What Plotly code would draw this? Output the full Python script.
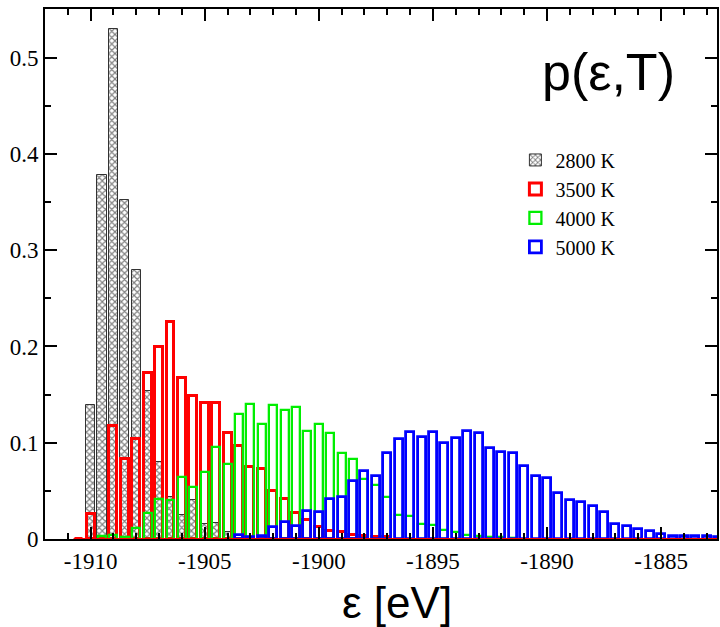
import numpy as np
import plotly.graph_objects as go

# Energy bins (eV), bin width 0.5 eV
bins = np.round(np.arange(-1910.5, -1882.49, 0.5), 2)

# Normalised energy distributions p(eps, T) per temperature, keyed by bin centre
p_2800 = {
    -1910.0: 0.139, -1909.5: 0.378, -1909.0: 0.530, -1908.5: 0.352,
    -1908.0: 0.279, -1907.5: 0.154, -1907.0: 0.080, -1906.5: 0.044,
    -1906.0: 0.025, -1905.5: 0.040, -1905.0: 0.016, -1904.5: 0.017,
    -1904.0: 0.007,
}
p_3500 = {
    -1910.5: 0.0, -1910.0: 0.026, -1909.5: 0.0, -1909.0: 0.117,
    -1908.5: 0.083, -1908.0: 0.104, -1907.5: 0.172, -1907.0: 0.199,
    -1906.5: 0.225, -1906.0: 0.167, -1905.5: 0.149, -1905.0: 0.141,
    -1904.5: 0.141, -1904.0: 0.110, -1903.5: 0.097, -1903.0: 0.075,
    -1902.5: 0.073, -1902.0: 0.050, -1901.5: 0.042, -1901.0: 0.027,
    -1900.5: 0.020, -1900.0: 0.012, -1899.5: 0.008, -1899.0: 0.007,
    -1898.5: 0.004, -1898.0: 0.003, -1897.5: 0.002, -1897.0: 0.002,
}
p_4000 = {
    -1909.5: 0.003, -1909.0: 0.004, -1908.5: 0.002, -1908.0: 0.011,
    -1907.5: 0.027, -1907.0: 0.042, -1906.5: 0.041, -1906.0: 0.064,
    -1905.5: 0.054, -1905.0: 0.070, -1904.5: 0.096, -1904.0: 0.078,
    -1903.5: 0.130, -1903.0: 0.140, -1902.5: 0.119, -1902.0: 0.139,
    -1901.5: 0.134, -1901.0: 0.137, -1900.5: 0.112, -1900.0: 0.119,
    -1899.5: 0.110, -1899.0: 0.089, -1898.5: 0.083, -1898.0: 0.062,
    -1897.5: 0.056, -1897.0: 0.044, -1896.5: 0.025, -1896.0: 0.024,
    -1895.5: 0.016, -1895.0: 0.015, -1894.5: 0.009, -1894.0: 0.007,
    -1893.5: 0.004, -1893.0: 0.003, -1892.5: 0.002, -1892.0: 0.002,
    -1891.5: 0.001,
}
p_5000 = {
    -1903.5: 0.004, -1903.0: 0.002, -1902.5: 0.003, -1902.0: 0.012,
    -1901.5: 0.018, -1901.0: 0.013, -1900.5: 0.029, -1900.0: 0.028,
    -1899.5: 0.042, -1899.0: 0.044, -1898.5: 0.060, -1898.0: 0.071,
    -1897.5: 0.065, -1897.0: 0.089, -1896.5: 0.104, -1896.0: 0.111,
    -1895.5: 0.106, -1895.0: 0.111, -1894.5: 0.100, -1894.0: 0.105,
    -1893.5: 0.112, -1893.0: 0.110, -1892.5: 0.095, -1892.0: 0.090,
    -1891.5: 0.089, -1891.0: 0.076, -1890.5: 0.065, -1890.0: 0.063,
    -1889.5: 0.048, -1889.0: 0.040, -1888.5: 0.038, -1888.0: 0.034,
    -1887.5: 0.028, -1887.0: 0.016, -1886.5: 0.013, -1886.0: 0.010,
    -1885.5: 0.008, -1885.0: 0.005, -1884.5: 0.003, -1884.0: 0.003,
    -1883.5: 0.003, -1883.0: 0.003, -1882.5: 0.002,
}

labels = ["2800 K", "3500 K", "4000 K", "5000 K"]
x_ticks = [-1910, -1905, -1900, -1895, -1890, -1885]
y_ticks = [0, 0.1, 0.2, 0.3, 0.4, 0.5]

BIN = 0.5


def series(d):
    xs = [b for b in bins if b in d]
    return xs, [d[b] for b in xs]


fig = go.Figure()

# 2800 K: cross-hatched bars
x0, y0 = series(p_2800)
fig.add_trace(go.Bar(
    x=x0, y=y0, name=labels[0], width=0.4,
    marker=dict(color="white", line=dict(color="#333333", width=1),
                pattern=dict(shape="x", fgcolor="black", bgcolor="white",
                             size=4.5, solidity=0.45)),
))

# 3500 K: red outlined bars with red zero baseline across the full bin range
red_x = list(bins)
fig.add_trace(go.Scatter(
    x=[red_x[0] - BIN / 2, red_x[-1] + BIN / 2], y=[0, 0], mode="lines",
    line=dict(color="#ff0000", width=2), showlegend=False, hoverinfo="skip",
))
x1, y1 = series(p_3500)
fig.add_trace(go.Bar(
    x=x1, y=y1, name=labels[1], width=0.35,
    marker=dict(color="rgba(0,0,0,0)", line=dict(color="#ff0000", width=3)),
))

x2, y2 = series(p_4000)
fig.add_trace(go.Bar(
    x=x2, y=y2, name=labels[2], width=0.35,
    marker=dict(color="rgba(0,0,0,0)", line=dict(color="#00ee00", width=2.3)),
))

x3, y3 = series(p_5000)
fig.add_trace(go.Bar(
    x=x3, y=y3, name=labels[3], width=0.35,
    marker=dict(color="rgba(0,0,0,0)", line=dict(color="#0000ff", width=2.8)),
))

axis_common = dict(
    showline=True, linecolor="black", linewidth=2, mirror="allticks",
    ticks="inside", ticklen=12, tickwidth=1.5, tickcolor="black",
    showgrid=False, zeroline=False,
    tickfont=dict(family="Liberation Serif", size=23, color="black"),
)

fig.update_layout(
    width=720, height=627,
    margin=dict(l=45, r=1, t=9, b=88),
    paper_bgcolor="white", plot_bgcolor="white",
    barmode="overlay", bargap=0,
    showlegend=True,
    legend=dict(
        x=0.70, y=0.752, xanchor="left", yanchor="top",
        font=dict(family="Liberation Serif", size=20, color="black"),
        bgcolor="rgba(0,0,0,0)", borderwidth=0, tracegroupgap=0,
        itemwidth=30,
    ),
    xaxis=dict(
        range=[-1912, -1882.55], tickvals=x_ticks,
        ticktext=[str(v) for v in x_ticks],
        minor=dict(dtick=1, ticklen=6, tickwidth=1.5, tickcolor="black",
                   ticks="inside", showgrid=False),
        **axis_common,
    ),
    yaxis=dict(
        range=[0, 0.5505], tickvals=y_ticks,
        ticktext=["0", "0.1", "0.2", "0.3", "0.4", "0.5"],
        minor=dict(dtick=0.05, ticklen=6, tickwidth=1.5, tickcolor="black",
                   ticks="inside", showgrid=False),
        **axis_common,
    ),
    annotations=[
        dict(text="p(ε,T)", x=0.838, y=0.882, xref="paper", yref="paper",
             xanchor="center", yanchor="middle", showarrow=False,
             font=dict(family="Liberation Sans", size=52, color="black")),
        dict(text="ε [eV]", x=0.524, y=-0.12, xref="paper", yref="paper",
             xanchor="center", yanchor="middle", showarrow=False,
             font=dict(family="Liberation Sans", size=44, color="black")),
    ],
)

fig.write_html("out.html")
